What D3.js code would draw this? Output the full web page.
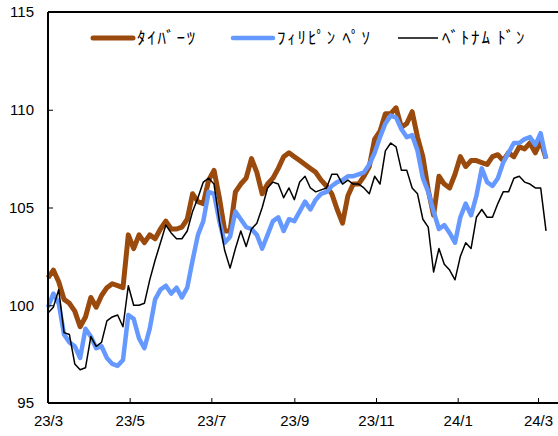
<!DOCTYPE html>
<html><head><meta charset="utf-8">
<script src="https://cdn.jsdelivr.net/npm/d3@7/dist/d3.min.js"></script>
<style>body{margin:0;background:#fff}svg{display:block}</style>
</head><body><svg id="c" width="558" height="436"></svg>
<script>
// Series sampled every 4 calendar days from 2023-03-01
const startDate = "2023-03-01";
const stepDays = 4;
const seriesNames = ["ﾀｲﾊﾞｰﾂ", "ﾌｨﾘﾋﾟﾝ ﾍﾟｿ", "ﾍﾞﾄﾅﾑ ﾄﾞﾝ"];
const thb = [101.4,101.8,101.2,100.3,100.1,99.7,98.9,99.4,100.4,99.9,100.5,100.9,101.1,101.0,100.9,103.6,102.9,103.6,103.2,103.6,103.4,103.9,104.3,103.9,103.9,104.0,104.4,105.7,105.3,105.2,106.4,106.9,105.5,103.8,103.8,105.8,106.2,106.5,107.5,106.8,105.7,106.2,106.5,107.0,107.6,107.8,107.6,107.4,107.2,107.0,106.8,106.4,106.1,105.7,104.9,104.2,105.6,106.2,106.2,106.6,107.1,108.5,108.9,109.8,109.8,110.1,109.1,109.3,109.9,108.6,107.6,105.9,104.6,106.6,106.2,106.0,106.7,107.6,107.1,107.4,107.4,107.3,107.2,107.6,107.7,107.4,107.8,107.6,108.1,108.0,108.3,107.8,108.4,107.5];
const php = [99.9,100.6,100.1,98.5,98.1,97.9,97.3,98.8,98.4,97.8,97.9,97.3,97.0,96.9,97.2,99.5,99.3,98.3,97.8,98.8,100.3,100.8,101.0,100.6,100.9,100.4,100.9,102.3,103.6,104.3,105.8,105.7,104.3,103.2,103.5,104.8,104.4,104.0,103.9,103.6,102.9,103.6,104.3,104.5,103.8,104.4,104.3,104.8,105.3,104.9,105.4,105.7,105.8,106.1,106.3,106.4,106.6,106.6,106.7,106.8,107.2,107.8,108.6,109.3,109.7,109.6,109.0,108.6,108.7,107.9,106.5,105.8,104.8,103.9,104.1,103.7,103.2,104.5,105.2,104.6,105.6,107.0,106.3,106.1,106.5,107.3,107.8,108.3,108.3,108.5,108.6,108.2,108.8,107.5];
const vnd = [99.6,99.9,100.8,98.6,98.5,97.0,96.7,96.8,98.4,97.9,98.1,99.2,99.4,99.5,98.9,101.0,100.0,100.0,100.1,101.3,102.3,103.2,104.1,103.7,103.4,103.4,103.8,104.8,105.5,106.3,106.5,106.2,104.3,102.8,101.9,102.9,103.8,103.0,103.9,104.2,105.0,106.0,106.3,106.2,105.5,106.0,105.4,106.3,106.6,106.0,105.8,105.9,106.0,106.7,106.7,106.2,106.4,106.2,106.2,106.0,105.7,106.6,106.2,107.9,108.3,108.1,106.9,106.9,106.0,105.7,104.4,104.0,101.7,102.9,102.1,101.8,101.3,102.5,103.2,102.9,104.5,104.9,104.5,104.5,105.2,105.8,105.8,106.5,106.6,106.3,106.2,106.0,106.0,103.8];
const yTicks = [95, 100, 105, 110, 115];
const xTickLabels = ["23/3","23/5","23/7","23/9","23/11","24/1","24/3"];
const colors = ["#9A4A0C", "#6699FF", "#000000"];
const widths = [5, 4.5, 1.5];

const svg = d3.select("#c");
const L = 48, R = 558, T = 12, B = 403;
const parse = d3.timeParse("%Y-%m-%d");
const t0 = parse(startDate);
const dates = thb.map((_, i) => d3.timeDay.offset(t0, i * stepDays));
const x = d3.scaleTime().domain([parse("2023-03-01"), parse("2024-03-01")]).range([L, 538]);
const y = d3.scaleLinear().domain([95, 115]).range([B, T]);

const font = "'Liberation Sans', Arial, sans-serif";

// lines
const line = d3.line().x((d, i) => x(dates[i])).y(d => y(d));
const all = [thb, php, vnd];
all.forEach((s, k) => {
  svg.append("path").datum(s).attr("d", line)
    .attr("fill", "none").attr("stroke", colors[k])
    .attr("stroke-width", widths[k]).attr("stroke-linejoin", "round");
});

// axes
const yAxis = d3.axisLeft(y).tickValues(yTicks).tickSize(-5).tickPadding(14);
const gy = svg.append("g").attr("transform", `translate(${L},0)`).call(yAxis);
const tickDates = xTickLabels.map(s => { const [a, b] = s.split("/"); return new Date(2000 + +a, +b - 1, 1); });
const xAxis = d3.axisBottom(x).tickValues(tickDates).tickFormat((d, i) => xTickLabels[i]).tickSize(-5).tickPadding(12);
const gx = svg.append("g").attr("transform", `translate(0,${B})`).call(xAxis);
[gx, gy].forEach(g => {
  g.select(".domain").remove();
  g.selectAll("line").attr("stroke", "#000").attr("stroke-width", 1);
  g.selectAll("text").attr("font-family", font).attr("font-size", 15).attr("fill", "#000");
});
// frame
svg.append("line").attr("x1", L).attr("x2", R).attr("y1", T).attr("y2", T).attr("stroke", "#000").attr("stroke-width", 2);
svg.append("line").attr("x1", L).attr("x2", R).attr("y1", B).attr("y2", B).attr("stroke", "#000").attr("stroke-width", 2);
svg.append("line").attr("x1", L).attr("x2", L).attr("y1", T).attr("y2", B).attr("stroke", "#000").attr("stroke-width", 2);

// legend
const legX = [93, 233, 398];
const leg = svg.append("g");
seriesNames.forEach((n, k) => {
  leg.append("line").attr("x1", legX[k]).attr("x2", legX[k] + 40).attr("y1", 38).attr("y2", 38)
    .attr("stroke", colors[k]).attr("stroke-width", widths[k]).attr("stroke-linecap", k < 2 ? "round" : "butt");
  leg.append("text").attr("x", legX[k] + 44).attr("y", 38).attr("dy", "0.36em")
    .attr("font-family", "'Noto Sans CJK JP', sans-serif").attr("font-size", 17)
    .attr("letter-spacing", 1.8).style("white-space", "pre").text(n);
});
</script></body></html>
